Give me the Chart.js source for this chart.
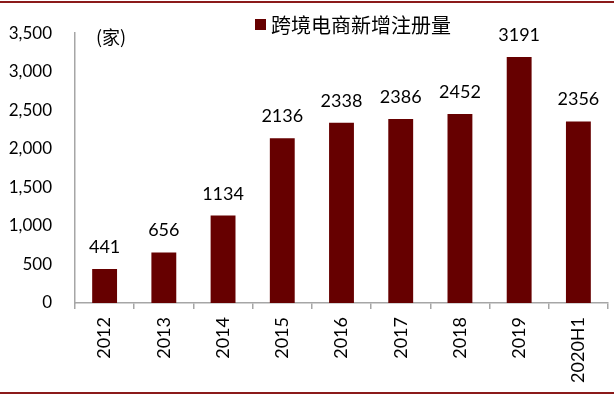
<!DOCTYPE html>
<html>
<head>
<meta charset="utf-8">
<script src="https://cdn.jsdelivr.net/npm/chart.js@4"></script>
<style>
  body { margin: 0; background: #fff; }
  #wrap { position: relative; width: 614px; height: 397px; }
  #topLine, #bottomLine { position: absolute; left: 0; width: 614px; height: 2px; background: #8b1a1a; }
  #topLine { top: 1px; }
  #bottomLine { top: 392px; }
  canvas { position: absolute; left: 0; top: 0; }
</style>
</head>
<body>
<div id="wrap">
  <canvas id="chart" width="614" height="397"></canvas>
  <div id="topLine"></div>
  <div id="bottomLine"></div>
</div>
<script>
// data
const years = ['2012', '2013', '2014', '2015', '2016', '2017', '2018', '2019', '2020H1'];
const newRegs = [441, 656, 1134, 2136, 2338, 2386, 2452, 3191, 2356];
const seriesName = '跨境电商新增注册量';
const unitText = '(家)';

const barColor = '#660000';
const axisColor = '#a6a6a6';

// values above the bars
const valueLabels = {
  id: 'valueLabels',
  afterDatasetsDraw(chart) {
    const ctx = chart.ctx;
    const meta = chart.getDatasetMeta(0);
    ctx.save();
    ctx.font = '18px Lato';
    ctx.fillStyle = '#000';
    ctx.textAlign = 'center';
    ctx.textBaseline = 'alphabetic';
    meta.data.forEach((bar, i) => {
      ctx.fillText(String(newRegs[i]), bar.x, bar.y - 16);
    });
    ctx.restore();
  }
};

// legend + unit
const legendBox = {
  id: 'legendBox',
  afterDraw(chart) {
    const ctx = chart.ctx;
    ctx.save();
    ctx.fillStyle = barColor;
    ctx.fillRect(255, 19, 11, 11);
    ctx.fillStyle = '#000';
    ctx.font = '20px "Noto Sans CJK SC"';
    ctx.textBaseline = 'middle';
    ctx.textAlign = 'left';
    ctx.fillText(seriesName, 271, 25);
    ctx.font = '18px "Noto Sans CJK SC"';
    ctx.fillText(unitText, 96, 37);
    ctx.restore();
  }
};

new Chart(document.getElementById('chart').getContext('2d'), {
  type: 'bar',
  data: {
    labels: years,
    datasets: [{
      label: seriesName,
      data: newRegs,
      backgroundColor: barColor,
      categoryPercentage: 1,
      barPercentage: 0.42
    }]
  },
  options: {
    responsive: false,
    animation: false,
    layout: { padding: { top: 32, right: 6, left: 0, bottom: 0 } },
    plugins: {
      legend: { display: false },
      tooltip: { enabled: false }
    },
    scales: {
      x: {
        afterFit: (s) => { s.height = 94; },
        grid: { drawOnChartArea: false, drawTicks: true, tickLength: 6, color: axisColor, lineWidth: 1.5 },
        border: { color: axisColor, width: 1.5 },
        ticks: {
          color: '#000',
          font: { family: 'Lato', size: 18 },
          minRotation: 90,
          maxRotation: 90,
          padding: 8,
          autoSkip: false
        }
      },
      y: {
        min: 0,
        max: 3500,
        afterFit: (s) => { s.width = 75; },
        grid: { display: false, drawTicks: false },
        border: { color: axisColor, width: 1.5 },
        ticks: {
          stepSize: 500,
          padding: 23,
          color: '#000',
          font: { family: 'Lato', size: 17 },
          callback: (v) => v.toLocaleString('en-US')
        }
      }
    }
  },
  plugins: [valueLabels, legendBox]
});
</script>
</body>
</html>
